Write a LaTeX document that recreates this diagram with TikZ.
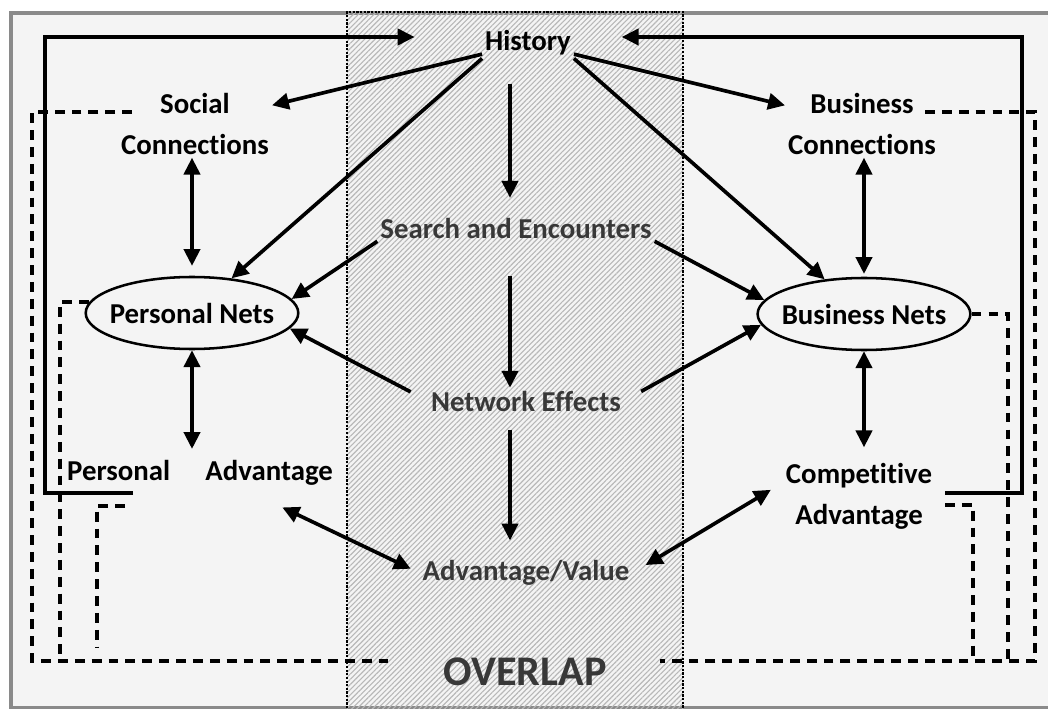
\documentclass[tikz,border=0pt]{standalone}
\usepackage{fontspec}
\setmainfont{Carlito}[Ligatures=NoCommon]
\usetikzlibrary{arrows.meta, positioning, shapes.geometric, patterns.meta}

\definecolor{paper}{HTML}{F4F4F4}
\definecolor{hatch}{HTML}{B8B8B8}
\definecolor{framegray}{HTML}{8A8A8A}

\tikzset{
  lbl/.style={font=\fontsize{20.5}{29}\selectfont\bfseries, align=center, inner sep=2pt},
  midlbl/.style={lbl, text=black!78},
  nets/.style={lbl, ellipse, draw, line width=1.8pt, fill=paper, inner xsep=-5pt, inner ysep=0pt, minimum height=1.8cm},
  arr/.style={line width=2.6pt, -{Triangle[length=12pt,width=11.5pt]}},
  dbl/.style={line width=2.6pt, {Triangle[length=12pt,width=11.5pt]}-{Triangle[length=12pt,width=11.5pt]}},
  dashline/.style={line width=2.5pt, dash pattern=on 7pt off 5pt},
}

\begin{document}
\begin{tikzpicture}[x=0.025cm, y=-0.025cm]
      \useasboundingbox (0,0) rectangle (1048,709);
      \clip (0,0) rectangle (1048,709);

      % Frame and overlap band
      \fill[white] (0,0) rectangle (1048,709);
      \draw[framegray, line width=2.2pt, fill=paper] (11,13) rectangle (1060,708);
      \fill[pattern={Lines[angle=45, distance=2.6pt, line width=0.8pt]}, pattern color=hatch] (347,12) rectangle (683,712);
      \draw[line width=2pt, dash pattern=on 1.6pt off 1pt] (347,712) -- (347,12) -- (683,12) -- (683,712);

      % Labels
      \node[lbl] (hist) at (528,43) {History};
      \node[lbl] (social) at (195,124) {Social\\Connections};
      \node[lbl] (bconn) at (862,124) {Business\\Connections};
      \node[midlbl] (srch) at (516,228) {Search and Encounters};
      \node[nets] (pnets) at (192,313) {Personal Nets};
      \node[nets] (bnets) at (864,314) {Business Nets};
      \node[midlbl] (neteff) at (526,401) {Network Effects};
      \node[lbl] (padv) at (200,473) {Personal\hspace{25pt}Advantage};
      \node[lbl] (cadv) at (859,496) {Competitive\\Advantage};
      \node[midlbl] (advval) at (526,573) {Advantage/Value};
      \node[midlbl, font=\fontsize{30}{32}\selectfont\bfseries] (overlap) at (525,672) {OVERLAP};
      \coordinate (spine) at (510,0);

      % Arrows from History
      \draw[arr] (hist) -- (social);
      \draw[arr] (hist) -- (bconn);
      \draw[arr] (hist.south west) -- (pnets);
      \draw[arr] (hist.south east) -- (bnets);
      \draw[arr, shorten <=18pt, shorten >=12pt] (hist.south -| spine) -- (srch.north -| spine);

      % Search and Encounters, Network Effects
      \draw[arr] (srch.south west) -- (pnets.8);
      \draw[arr] (srch.south east) -- (bnets.172);
      \draw[arr, shorten <=25pt] (srch.south -| spine) -- (neteff.north -| spine);
      \draw[arr, shorten <=14pt] (neteff.west) -- (pnets.-9);
      \draw[arr, shorten <=14pt] (neteff.east) -- (bnets.186);
      \draw[arr, shorten <=11pt, shorten >=12pt] (neteff.south -| spine) -- (advval.north -| spine);

      % Two-way arrows
      \draw[dbl, shorten >=7pt] (social.south -| pnets) -- (pnets.north);
      \draw[dbl, shorten >=6pt] (pnets.south) -- (padv.north -| pnets);
      \draw[dbl, shorten >=2pt] (bconn.south -| bnets) -- (bnets.north);
      \draw[dbl, shorten >=9pt] (bnets.south) -- (cadv.north -| bnets);
      \draw[dbl, shorten <=31pt, shorten >=7pt] (padv.-20) -- (advval.west);
      \draw[dbl, shorten <=11pt, shorten >=10pt] (advval.east) -- (cadv.170);

      % Feedback loops to History
      \coordinate (pl0) at (133,493);
      \coordinate (pl1) at (45,37);
      \coordinate (bl0) at (945,493);
      \coordinate (bl1) at (1022,37);
      \draw[arr, shorten >=48pt] (pl0) -| (pl1) -- (pl1 -| hist.west);
      \draw[arr, shorten >=34pt] (bl0) -| (bl1) -- (bl1 -| hist.east);

      % Dashed loops
      \coordinate (so0) at (132,112);
      \coordinate (so1) at (32,112);
      \coordinate (so2) at (395,661);
      \coordinate (bo0) at (925,112);
      \coordinate (bo1) at (1035,112);
      \coordinate (bo2) at (660,661);
      \coordinate (pi1) at (60,661);
      \coordinate (bi1) at (1008,661);
      \coordinate (pa0) at (125,506);
      \coordinate (pa1) at (97,647);
      \coordinate (ca0) at (945,505);
      \coordinate (ca1) at (973,661);
      \draw[dashline] (so0) -- (so1) |- (so2);
      \draw[dashline] (bo0) -- (bo1) |- (bo2);
      \draw[dashline] (pnets.174) -| (pi1);
      \draw[dashline] (bnets.east) -| (bi1);
      \draw[dashline] (pa0) -| (pa1);
      \draw[dashline] (ca0) -| (ca1);
\end{tikzpicture}
\end{document}
